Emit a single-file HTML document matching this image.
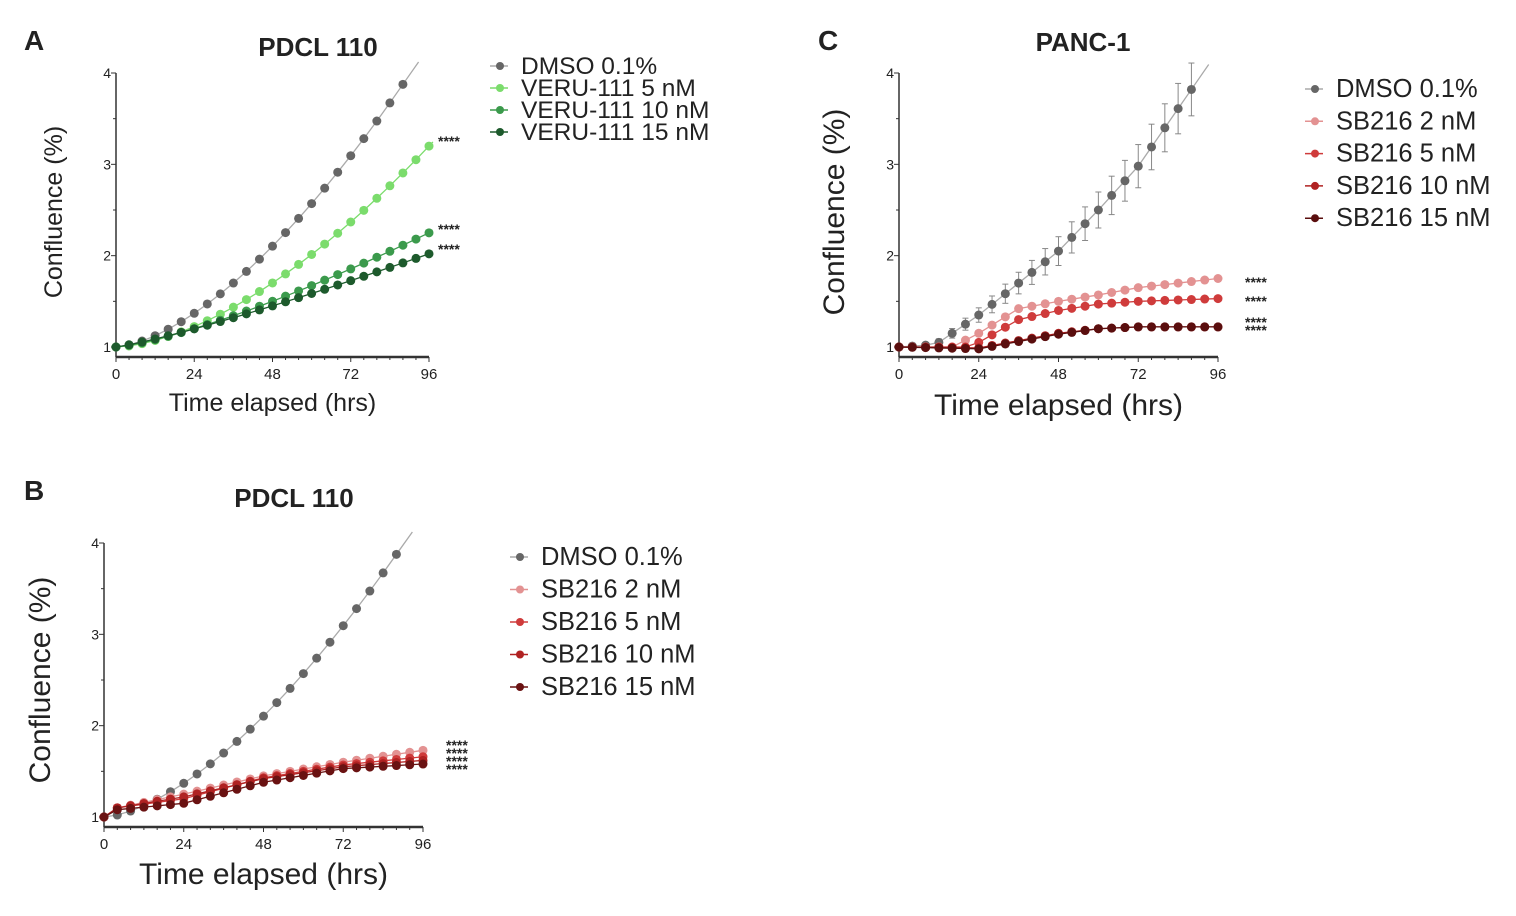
<!DOCTYPE html>
<html><head><meta charset="utf-8">
<style>
html,body{margin:0;padding:0;background:#fff;width:1516px;height:916px;overflow:hidden}
svg{display:block}
text{font-family:"Liberation Sans",Arial,sans-serif;fill:#222}
</style></head>
<body>
<svg id="s" width="1516" height="916" xmlns="http://www.w3.org/2000/svg"></svg>
<script>
const S=document.getElementById('s');let h='';
function interp(tbl,t){for(let i=0;i<tbl.length-1;i++){const[a,va]=tbl[i],[b,vb]=tbl[i+1];if(t>=a&&t<=b)return va+(vb-va)*(t-a)/(b-a);}return tbl[tbl.length-1][1];}
function panel(P){
 const X=t=>P.x0+(P.x96-P.x0)*t/96, Y=v=>P.y1-(P.y1-P.y4)*(v-1)/3;
 h+=`<line x1="${P.x0}" y1="${P.y4}" x2="${P.x0}" y2="${P.ax}" stroke="#333" stroke-width="1.5"/>`;
 h+=`<line x1="${P.x0}" y1="${P.ax}" x2="${P.x96}" y2="${P.ax}" stroke="#333" stroke-width="2.5"/>`;
 for(let v=1;v<=4;v+=0.5){const y=Y(v);h+=`<line x1="${P.x0-(v%1?3:5)}" y1="${y}" x2="${P.x0}" y2="${y}" stroke="#333"/>`;}
 for(let v=1;v<=4;v++)h+=`<text x="${P.x0-5}" y="${Y(v)+5}" font-size="14" text-anchor="end">${v}</text>`;
 for(let t=0;t<=96;t+=4){const x=X(t);h+=`<line x1="${x}" y1="${P.ax}" x2="${x}" y2="${P.ax+(t%24?3:5)}" stroke="#333"/>`;}
 for(let t=0;t<=96;t+=24)h+=`<text x="${X(t)}" y="${P.ax+22}" font-size="${P.tf}" text-anchor="middle">${t}</text>`;
 h+=`<text x="${(P.x0+P.x96)/2}" y="${P.xl}" font-size="${P.lf}" text-anchor="middle">Time elapsed (hrs)</text>`;
 h+=`<text transform="translate(${P.ylx},${P.yly}) rotate(-90)" font-size="${P.lf}" text-anchor="middle">Confluence (%)</text>`;
 h+=`<text x="${P.tx}" y="${P.ty}" font-size="26" font-weight="bold" text-anchor="middle">${P.title}</text>`;
 h+=`<text x="${P.lx}" y="${P.ly}" font-size="28" font-weight="bold">${P.letter}</text>`;
 P.series.forEach(s=>{
  const tmax=s.tmax||96;
  let pts=[];for(let t=0;t<=tmax;t+=4)pts.push([X(t),Y(interp(s.d,t))]);
  const n=pts.length,a=pts[n-2],b=pts[n-1],f=s.ext||0.3;
  const ext=[b[0]+(b[0]-a[0])*f,b[1]+(b[1]-a[1])*f];
  h+=`<polyline points="${pts.map(p=>p.join(',')).join(' ')} ${ext.join(',')}" fill="none" stroke="${s.lc||s.c}" stroke-width="1.3"/>`;
  pts.forEach((p,i)=>{if(s.err){const e=s.err*i;h+=`<line x1="${p[0]}" y1="${p[1]-e}" x2="${p[0]}" y2="${p[1]+e}" stroke="#888"/><line x1="${p[0]-3}" y1="${p[1]-e}" x2="${p[0]+3}" y2="${p[1]-e}" stroke="#888"/><line x1="${p[0]-3}" y1="${p[1]+e}" x2="${p[0]+3}" y2="${p[1]+e}" stroke="#888"/>`;}
   h+=`<circle cx="${p[0]}" cy="${p[1]}" r="${P.r}" fill="${s.c}"/>`;});
 });
 (P.stars||[]).forEach(([x,y])=>h+=`<text x="${x}" y="${y}" font-size="14" font-weight="bold">****</text>`);
 P.series.forEach((s,i)=>{const y=P.legY+i*P.legD;
  h+=`<line x1="${P.legX-10}" y1="${y}" x2="${P.legX+8}" y2="${y}" stroke="${s.lc||s.c}" stroke-width="1.5"/><circle cx="${P.legX}" cy="${y}" r="4" fill="${s.c}"/>`;
  h+=`<text x="${P.legX+21}" y="${y+8}" font-size="${P.legF}">${s.name}</text>`;});
}
const pw=(end,p)=>{let a=[];for(let t=0;t<=96;t+=4)a.push([t,1+(end-1)*Math.pow(t/96,p)]);return a;};
panel({x0:116,x96:429,y1:347,y4:73,ax:357,tf:15,lf:25,xl:411,ylx:62,yly:212,tx:318,ty:56,title:"PDCL 110",lx:24,ly:50,letter:"A",r:4.5,
 legX:500,legY:66,legD:22,legF:24.5,
 series:[{name:"DMSO 0.1%",c:"#666",lc:"#aaa",d:pw(4.3,1.58),tmax:88,ext:1.2},
 {name:"VERU-111 5 nM",c:"#7bdc6c",d:pw(3.2,1.65)},
 {name:"VERU-111 10 nM",c:"#3b9a4c",d:pw(2.25,1.32)},
 {name:"VERU-111 15 nM",c:"#1d5a2c",d:pw(2.02,1.18)}],
 stars:[[438,146],[438,234],[438,254]]});
const red=[[0,1],[4,1.1],[24,1.22],[48,1.42],[72,1.55],[96,1.62]];
panel({x0:104,x96:423,y1:817,y4:543,ax:827,tf:15,lf:30,xl:884,ylx:50,yly:680,tx:294,ty:507,title:"PDCL 110",lx:24,ly:500,letter:"B",r:4.5,
 legX:520,legY:557,legD:32.5,legF:25.5,
 series:[{name:"DMSO 0.1%",c:"#666",lc:"#aaa",d:pw(4.3,1.58),tmax:88,ext:1.2},
 {name:"SB216 2 nM",c:"#e39292",d:[[0,1],[4,1.1],[24,1.25],[48,1.45],[72,1.6],[96,1.73]]},
 {name:"SB216 5 nM",c:"#cf3b3b",d:[[0,1],[4,1.1],[24,1.2],[48,1.43],[72,1.57],[96,1.66]]},
 {name:"SB216 10 nM",c:"#b02222",d:red},
 {name:"SB216 15 nM",c:"#6a1212",d:[[0,1],[4,1.08],[24,1.15],[48,1.38],[72,1.53],[96,1.58]]}],
 stars:[[446,750],[446,758],[446,766],[446,774]]});
panel({x0:899,x96:1218,y1:347,y4:73,ax:357,tf:15,lf:30,xl:415,ylx:844,yly:212,tx:1083,ty:51,title:"PANC-1",lx:818,ly:50,letter:"C",r:4.5,
 legX:1315,legY:89,legD:32.3,legF:25.5,
 series:[{name:"DMSO 0.1%",c:"#666",lc:"#aaa",err:1.2,tmax:88,ext:1.3,d:[[0,1],[8,1.02],[12,1.05],[16,1.15],[24,1.35],[36,1.7],[48,2.05],[60,2.5],[72,2.98],[88,3.82],[96,4.2]]},
 {name:"SB216 2 nM",c:"#e39292",d:[[0,1],[16,1],[24,1.15],[36,1.42],[48,1.5],[60,1.57],[72,1.65],[96,1.75]]},
 {name:"SB216 5 nM",c:"#cf3b3b",d:[[0,1],[20,1],[24,1.05],[36,1.3],[48,1.4],[60,1.47],[72,1.5],[96,1.53]]},
 {name:"SB216 10 nM",c:"#b02222",d:[[0,1],[24,0.99],[36,1.07],[48,1.15],[60,1.2],[72,1.22],[96,1.22]]},
 {name:"SB216 15 nM",c:"#5a0e0e",d:[[0,1],[24,0.98],[36,1.06],[48,1.14],[60,1.2],[72,1.22],[96,1.22]]}],
 stars:[[1245,287],[1245,306],[1245,327],[1245,335]]});
S.innerHTML=h;
</script>
</body></html>
